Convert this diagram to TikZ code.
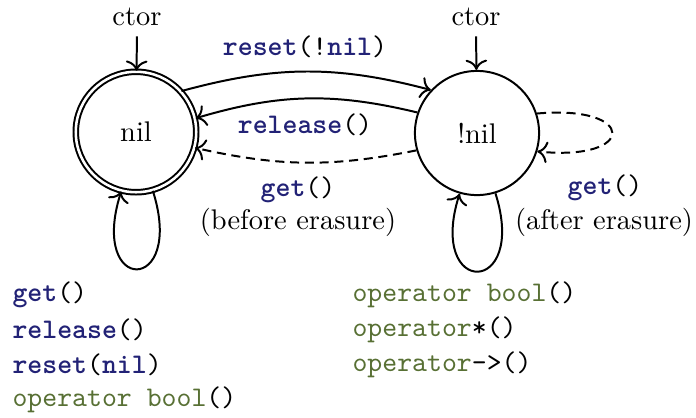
\documentclass[tikz,border=0pt]{standalone}
\usetikzlibrary{arrows.meta}
\definecolor{kwblue}{RGB}{34,34,118}
\definecolor{opgreen}{RGB}{88,112,52}
\newcommand{\kw}[1]{{\color{kwblue}\ttfamily\bfseries #1}}
\newcommand{\opw}[1]{{\color{opgreen}\ttfamily #1}}
\newcommand{\pl}[1]{{\ttfamily #1}}
\begin{document}
\begin{tikzpicture}[x=0.352pt,y=-0.352pt,
  statebox/.style={circle,draw,line width=0.7pt,inner sep=0pt},
  edge/.style={-{To[scale=1.15]},line width=0.7pt},
  dsh/.style={dash pattern=on 3.2pt off 2pt},
  lbl/.style={inner sep=0pt},
  code/.style={anchor=west,inner sep=0pt}]
\useasboundingbox (0,0) rectangle (696,417);
\node[statebox,double,double distance=0.9pt,minimum size=42.4pt] (nil) at (136,132) {nil};
\node[statebox,minimum size=43.7pt] (notnil) at (477,133) {!nil};
\node[lbl] (ctorA) at (137,17) {ctor};
\node[lbl] (ctorB) at (476,17) {ctor};
\draw[edge,shorten <=3.5pt] (ctorA.south) -- (nil);
\draw[edge,shorten <=3.5pt] (ctorB.south) -- (notnil);
\draw[edge] (nil.42) to[bend left=15] (notnil.137);
\draw[edge] (notnil.161) to[bend right=15] (nil.13);
\draw[edge,dsh] (notnil.196) to[bend left=12] (nil.-15);
\draw[edge] (nil.-74) .. controls +(33,104) and +(-33,104) .. (nil.-104);
\draw[edge] (notnil.-73) .. controls +(33,104) and +(-33,104) .. (notnil.-106);
\draw[edge,dsh] (notnil.18) .. controls +(100,-9) and +(100,10) .. (notnil.-17);
\node[lbl] (lreset) at (305,47) {\kw{reset}\pl{(!}\kw{nil}\pl{)}};
\node[lbl] (lrelease) at (305,125) {\kw{release}\pl{()}};
\node[lbl] (lget1) at (298,190) {\kw{get}\pl{()}};
\node[lbl] (lbefore) at (298,222) {(before erasure)};
\node[lbl] (lget2) at (605,188) {\kw{get}\pl{()}};
\node[lbl] (lafter) at (604,222) {(after erasure)};
\node[code] (c1) at (12,295) {\kw{get}\pl{()}};
\node[code] (c2) at (12,330) {\kw{release}\pl{()}};
\node[code] (c3) at (12,365) {\kw{reset}\pl{(}\kw{nil}\pl{)}};
\node[code] (c4) at (12,400) {\opw{operator bool}\pl{()}};
\node[code] (d1) at (352,295) {\opw{operator bool}\pl{()}};
\node[code] (d2) at (352,330) {\opw{operator}\pl{*()}};
\node[code] (d3) at (352,365) {\opw{operator}\pl{->()}};
\end{tikzpicture}
\end{document}
